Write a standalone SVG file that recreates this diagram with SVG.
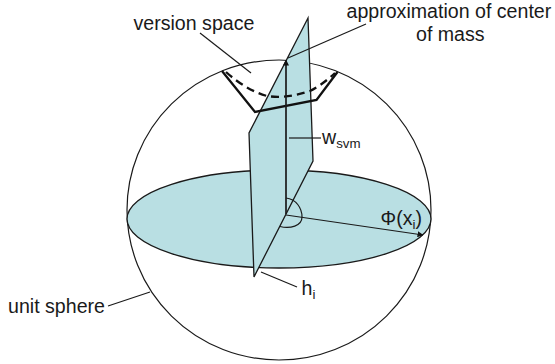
<svg xmlns="http://www.w3.org/2000/svg" width="555" height="364" viewBox="0 0 555 364">
<style>
text{font-family:"Liberation Sans",Arial,sans-serif;font-size:19.6px;fill:#1a1a1a}
.s{font-size:13.3px}
.l{fill:none;stroke:#1a1a1a;stroke-width:1.2}
.t{fill:#b9dfe3;stroke:#1a1a1a;stroke-width:1.3}
.b{fill:none;stroke:#111;stroke-width:2.3}
</style>
<defs><marker id="a" markerWidth="6" markerHeight="6" refX="5.500" refY="3" orient="auto" markerUnits="userSpaceOnUse"><path d="M0 0L6 3L0 6Z" fill="#111"/></marker></defs>
<rect width="555" height="364" fill="#fff"/>
<g id="sphere"><ellipse class="l" cx="279" cy="210" rx="152" ry="150"/></g>
<g id="equator"><ellipse class="t" cx="279" cy="219" rx="152" ry="49"/></g>
<g id="hyperplane"><path class="t" d="M308 18L249 133L254 277L313 161Z"/></g>
<g id="version-space">
<path class="b" d="M222 71L255 112L316.500 100L337.500 72"/>
<path class="b" d="M226 72Q246 90 267 96Q286 99 310 91Q322 85 335 73" stroke-dasharray="8 5"/>
</g>
<g id="connectors">
<path class="l" style="stroke-width:1.7" d="M286 214V60" marker-end="url(#a)"/>
<path class="l" d="M286 215L423 235" marker-end="url(#a)"/>
<path class="l" d="M286 198C296 199 302 208 302 217C302 226 290 229 280 226.500"/>
<path class="l" d="M200 33L251 73"/>
<path class="l" d="M366 24L288 58"/>
<path class="l" d="M289 138H321"/>
<path class="l" d="M261 272L297 287"/>
<path class="l" d="M108 306L150 292"/>
</g>
<g id="labels">
<text x="133.500" y="30">version space</text>
<text x="346.500" y="17.500">approximation of center</text>
<text x="416" y="41">of mass</text>
<text x="322" y="143.500">w<tspan class="s" dy="4">svm</tspan></text>
<text x="380.500" y="225">Φ(x<tspan class="s" dy="4">i</tspan><tspan dy="-4">)</tspan></text>
<text x="301.500" y="295">h<tspan class="s" dy="4">i</tspan></text>
<text x="8" y="313">unit sphere</text>
</g>
</svg>
